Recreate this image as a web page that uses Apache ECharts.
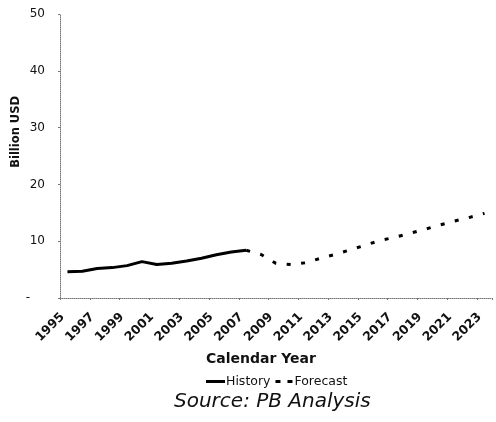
<!DOCTYPE html>
<html>
<head>
<meta charset="utf-8">
<script src="https://cdn.jsdelivr.net/npm/echarts@6/dist/echarts.min.js"></script>
<style>
html,body{margin:0;padding:0;background:#fff;}
#c{width:496px;height:422px;}
</style>
</head>
<body>
<div id="c"></div>
<script>
const years = ['1995','1996','1997','1998','1999','2000','2001','2002','2003','2004','2005','2006','2007','2008','2009','2010','2011','2012','2013','2014','2015','2016','2017','2018','2019','2020','2021','2022','2023'];
const history = [4.6, 4.7, 5.2, 5.35, 5.7, 6.4, 5.9, 6.1, 6.5, 7.0, 7.6, 8.1, 8.4, null, null, null, null, null, null, null, null, null, null, null, null, null, null, null, null];
const forecast = [null, null, null, null, null, null, null, null, null, null, null, null, 8.4, 7.65, 6.1, 5.9, 6.2, 7.0, 7.7, 8.5, 9.3, 10.15, 10.7, 11.4, 12.1, 12.85, 13.55, 14.2, 14.9];
const yTicks = [0, 10, 20, 30, 40, 50];

const chart = echarts.init(document.getElementById('c'), null, {renderer: 'canvas'});
const FONT = 'DejaVu Sans';
chart.setOption({
  animation: false,
  backgroundColor: '#ffffff',
  grid: {left: 60, right: 4, top: 14, bottom: 124, containLabel: false},
  xAxis: {
    type: 'category',
    data: years,
    boundaryGap: true,
    axisLine: {lineStyle: {color: '#777', type: 'dotted', width: 1}},
    axisTick: {show: true, length: 2, lineStyle: {color: '#777'}},
    axisLabel: {rotate: 45, interval: 1, margin: 12, color: '#111',
      formatter: v => '{a|' + v + '}',
      rich: {a: {fontFamily: FONT, fontSize: 12.5, fontWeight: 'bold', color: '#111', padding: [0, 7, 0, 0]}}},
    splitLine: {show: false}
  },
  yAxis: {
    type: 'value',
    min: yTicks[0], max: yTicks[yTicks.length - 1], interval: 10,
    axisLine: {show: true, lineStyle: {color: '#777', type: 'dotted', width: 1}},
    axisTick: {show: true, length: 2, lineStyle: {color: '#777'}},
    axisLabel: {margin: 15, fontFamily: FONT, fontSize: 12, color: '#111',
      formatter: v => v === 0 ? '{d|-}' : String(v),
      rich: {d: {fontFamily: FONT, fontSize: 12, color: '#111', padding: [0, 15, 0, 0]}}},
    splitLine: {show: false}
  },
  legend: {
    top: 370, left: 201,
    itemWidth: 19, itemHeight: 3, itemGap: 5,
    textStyle: {fontFamily: FONT, fontSize: 12.5, color: '#111', padding: [0, 0, 0, -4]},
    data: [
      {name: 'History', icon: 'path://M0,0H19V3H0Z'},
      {name: 'Forecast', icon: 'path://M0,0H5V3H0Z M12,0H17V3H12Z'}
    ],
    itemStyle: {color: '#000'}
  },
  graphic: [
    {type: 'text', left: 10, top: 96, rotation: Math.PI / 2, style: {text: 'Billion USD', fontFamily: FONT, fontSize: 11.5, fontWeight: 'bold', fill: '#111'}},
    {type: 'text', left: 206, top: 352, style: {text: 'Calendar Year', fontFamily: FONT, fontSize: 14, fontWeight: 'bold', fill: '#111'}},
    {type: 'text', left: 174, top: 392, style: {text: 'Source: PB Analysis', fontFamily: FONT, fontSize: 20, fontStyle: 'italic', fill: '#111'}}
  ],
  series: [
    {name: 'History', type: 'line', data: history, symbol: 'none', connectNulls: false,
      lineStyle: {color: '#000', width: 3}, itemStyle: {color: '#000'}},
    {name: 'Forecast', type: 'line', data: forecast, symbol: 'none', connectNulls: false,
      lineStyle: {color: '#000', width: 3, type: [4, 10.5]}, itemStyle: {color: '#000'}}
  ]
});
</script>
</body>
</html>
